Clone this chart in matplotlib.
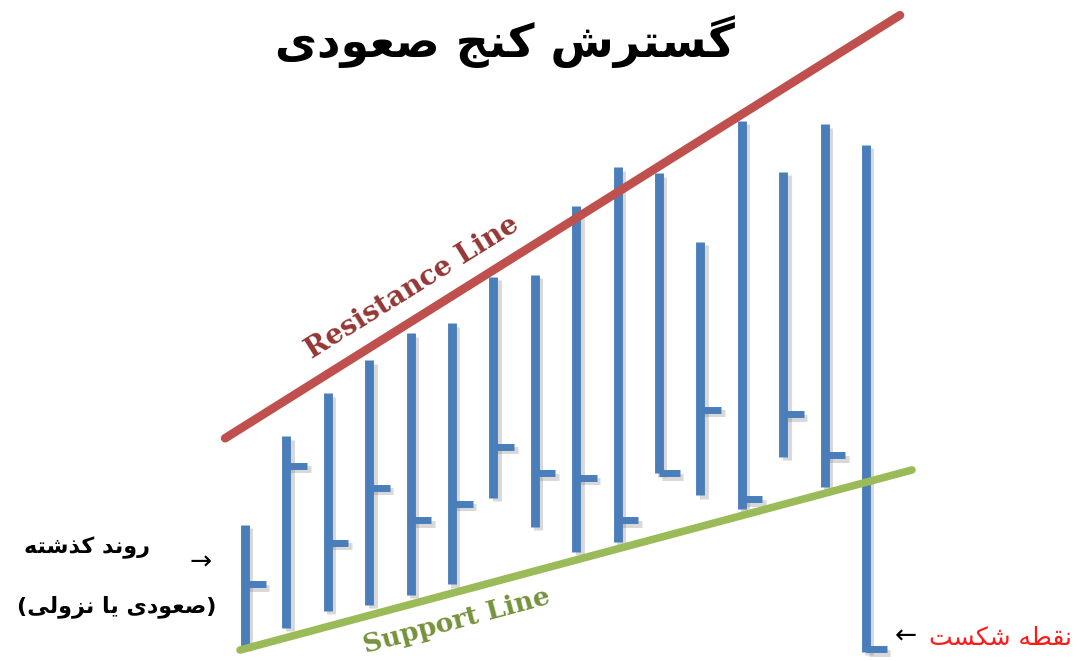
import matplotlib
matplotlib.use('Agg')
import matplotlib.pyplot as plt
import matplotlib.patheffects as pe

# 막대(OHLC 형태) 데이터: 고가 / 저가 / 종가
highs = [20.6, 34.0, 40.5, 45.5, 49.6, 51.1, 58.1, 58.4, 68.8, 74.7, 73.8, 63.4, 81.7, 74.0, 81.2, 78.1]
lows = [2.1, 5.0, 7.6, 8.5, 10.0, 11.6, 24.7, 20.3, 16.5, 18.0, 28.4, 25.1, 23.0, 30.9, 26.3, 1.4]
closes = [11.6, 29.5, 17.9, 26.2, 21.3, 23.8, 32.4, 28.4, 27.7, 21.3, 28.4, 38.0, 24.5, 37.3, 31.1, 1.8]

# 저항선 / 지지선 양 끝점 (x: 봉 번호, y: 가격)
resist_x = [-0.48, 15.82]
resist_y = [33.7, 97.7]
support_x = [-0.12, 16.11]
support_y = [1.66, 28.9]

title_text = 'گسترش کنج صعودی'
left_text1 = 'روند کذشته'
left_text2 = '(صعودی یا نزولی)'
break_text = 'نقطه شکست'

BLUE = '#4a7ebb'
RED = '#c0504d'
GREEN = '#9bbb59'

# 아랍 문자 연결형 (독립, 어말, 어두, 어중)
FORMS = {
    'ا': ('\uFE8D', '\uFE8E', None, None),
    'د': ('\uFEA9', '\uFEAA', None, None),
    'ذ': ('\uFEAB', '\uFEAC', None, None),
    'ر': ('\uFEAD', '\uFEAE', None, None),
    'ز': ('\uFEAF', '\uFEB0', None, None),
    'و': ('\uFEED', '\uFEEE', None, None),
    'ت': ('\uFE95', '\uFE96', '\uFE97', '\uFE98'),
    'ج': ('\uFE9D', '\uFE9E', '\uFE9F', '\uFEA0'),
    'س': ('\uFEB1', '\uFEB2', '\uFEB3', '\uFEB4'),
    'ش': ('\uFEB5', '\uFEB6', '\uFEB7', '\uFEB8'),
    'ص': ('\uFEB9', '\uFEBA', '\uFEBB', '\uFEBC'),
    'ط': ('\uFEC1', '\uFEC2', '\uFEC3', '\uFEC4'),
    'ع': ('\uFEC9', '\uFECA', '\uFECB', '\uFECC'),
    'ق': ('\uFED5', '\uFED6', '\uFED7', '\uFED8'),
    'ل': ('\uFEDD', '\uFEDE', '\uFEDF', '\uFEE0'),
    'ن': ('\uFEE5', '\uFEE6', '\uFEE7', '\uFEE8'),
    'ه': ('\uFEE9', '\uFEEA', '\uFEEB', '\uFEEC'),
    'ک': ('\uFB8E', '\uFB8F', '\uFB90', '\uFB91'),
    'گ': ('\uFB92', '\uFB93', '\uFB94', '\uFB95'),
    'ی': ('\uFBFC', '\uFBFD', '\uFBFE', '\uFBFF'),
}


def shape_rtl(s):
    out = []
    for k, c in enumerate(s):
        if c not in FORMS:
            out.append(c)
            continue
        prev = s[k - 1] if k > 0 else ''
        nxt = s[k + 1] if k + 1 < len(s) else ''
        prev_join = prev in FORMS and FORMS[prev][2] is not None
        next_join = nxt in FORMS and FORMS[c][2] is not None
        iso, fin, ini, med = FORMS[c]
        if prev_join and next_join:
            out.append(med)
        elif prev_join:
            out.append(fin)
        elif next_join:
            out.append(ini)
        else:
            out.append(iso)
    vis = ''.join(reversed(out))
    return vis.translate(str.maketrans('()', ')('))


fig = plt.figure(figsize=(10.84, 6.61), dpi=100)
ax = fig.add_axes([0, 0, 1, 1])
ax.set_xlim(-5.918, 20.266)
ax.set_ylim(0, 100)
ax.axis('off')

shadow = [pe.SimpleLineShadow(offset=(2.5, -2.5), shadow_color='#7f7f7f', alpha=0.3), pe.Normal()]

# 저항선 / 지지선
ax.plot(resist_x, resist_y, color=RED, lw=6.2, solid_capstyle='round', zorder=3)
ax.plot(support_x, support_y, color=GREEN, lw=5.5, solid_capstyle='round', zorder=3)

# 봉 그리기
for i in range(len(highs)):
    ax.plot([i, i], [lows[i], highs[i]], color=BLUE, lw=6.4,
            solid_capstyle='butt', path_effects=shadow, zorder=2)
    ax.plot([i, i + 0.5], [closes[i], closes[i]], color=BLUE, lw=5.0,
            solid_capstyle='butt', path_effects=shadow, zorder=2)

# 선 이름
ax.text(4.05, 56.5, 'Resistance Line', rotation=32, color='#943634',
        fontsize=20, fontweight='bold', family='DejaVu Serif',
        ha='center', va='center', zorder=4)
ax.text(5.12, 6.0, 'Support Line', rotation=15, color='#76923c',
        fontsize=19, fontweight='bold', family='DejaVu Serif',
        ha='center', va='center', zorder=4)

# 페르시아어 텍스트
fa = ['DejaVu Sans']
fig.text(0.466, 0.937, shape_rtl(title_text), fontsize=33, fontweight='bold',
         family=fa, ha='center', va='center')
fig.text(0.080, 0.171, shape_rtl(left_text1), fontsize=16, fontweight='bold',
         family=fa, ha='center', va='center')
fig.text(0.108, 0.082, shape_rtl(left_text2), fontsize=16, fontweight='bold',
         family=fa, ha='center', va='center')
fig.text(0.185, 0.149, '→', fontsize=19, family='DejaVu Sans', ha='center', va='center')
fig.text(0.836, 0.037, '←', fontsize=19, family='DejaVu Sans', ha='center', va='center')
fig.text(0.857, 0.035, shape_rtl(break_text), fontsize=18, color='#ff1a1a',
         family=fa, ha='left', va='center')

fig.savefig('out.png', dpi=100, facecolor='white')
